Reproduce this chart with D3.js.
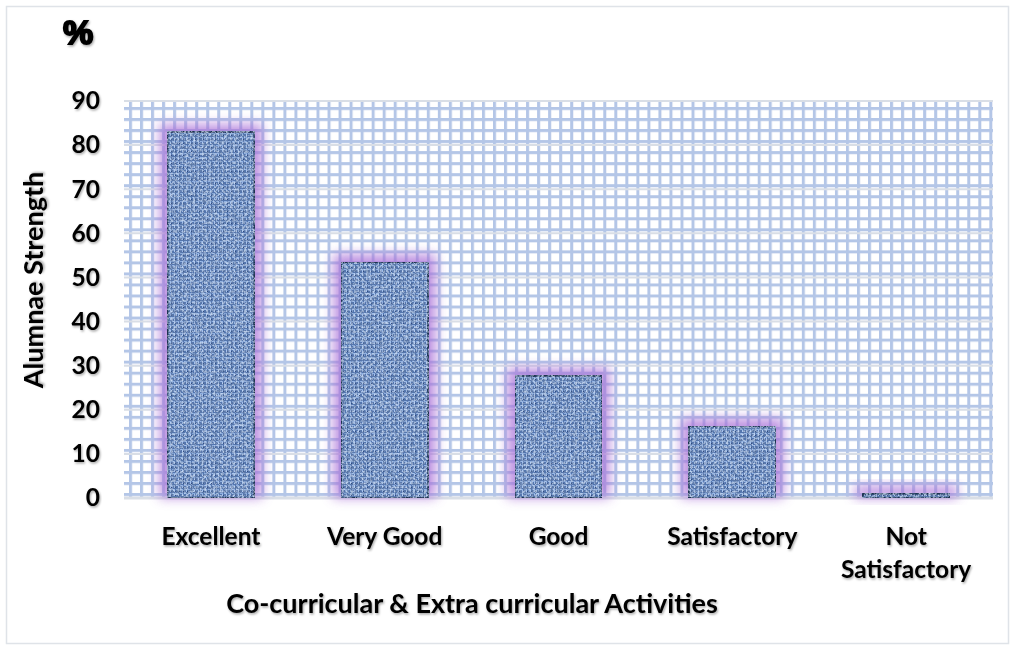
<!DOCTYPE html>
<html lang="en">
<head>
  <meta charset="UTF-8">
  <title>Alumnae Strength</title>
  <script src="https://d3js.org/d3.v7.min.js"></script>
  <style>
    body { margin: 0; background: #fff; font-family: Lato, "Open Sans", sans-serif; }
    svg text { font-weight: 700; fill: #000; }
  </style>
</head>
<body>
  <div id="chart"></div>
  <script>
    const categories = ["Excellent", "Very Good", "Good", "Satisfactory", "Not Satisfactory"];
    const values = [83, 53.5, 27.7, 16.3, 1];
    const yTicks = [0, 10, 20, 30, 40, 50, 60, 70, 80, 90];

    const w = 1015, h = 650;
    const plotLeft = 124, plotRight = 993, plotTop = 101, plotBottom = 498;

    const svg = d3.select("#chart").append("svg")
      .attr("width", w).attr("height", h);

    const defs = svg.append("defs");

    // plot area grid texture
    const grid = defs.append("pattern")
      .attr("id", "grid")
      .attr("patternUnits", "userSpaceOnUse")
      .attr("x", plotLeft + 5).attr("y", plotTop + 6)
      .attr("width", 11.03).attr("height", 11.03);
    grid.append("rect").attr("width", 11.03).attr("height", 11.03).attr("fill", "#fff");
    grid.append("rect").attr("x", 0).attr("y", 0).attr("width", 3).attr("height", 11.03).attr("fill", "#b4c6e7");
    grid.append("rect").attr("x", 0).attr("y", 0).attr("width", 11.03).attr("height", 3).attr("fill", "#b4c6e7");

    // woven bar texture
    const weave = defs.append("pattern")
      .attr("id", "weave")
      .attr("patternUnits", "userSpaceOnUse")
      .attr("width", 4).attr("height", 4);
    weave.append("rect").attr("width", 4).attr("height", 4).attr("fill", "#5275ad");
    weave.append("rect").attr("x", 0).attr("y", 1).attr("width", 3).attr("height", 1).attr("fill", "#8fb0e2");
    weave.append("rect").attr("x", 2).attr("y", 2).attr("width", 1).attr("height", 2).attr("fill", "#a6c2ee");
    weave.append("rect").attr("x", 3).attr("y", 3).attr("width", 1).attr("height", 1).attr("fill", "#304c7c");

    const noise = defs.append("filter").attr("id", "noise")
      .attr("x", 0).attr("y", 0).attr("width", 1).attr("height", 1);
    noise.append("feTurbulence").attr("type", "fractalNoise")
      .attr("baseFrequency", 0.3).attr("numOctaves", 3).attr("seed", 7).attr("result", "t");
    noise.append("feColorMatrix").attr("in", "t").attr("type", "matrix")
      .attr("values", "0 0 0 0 0.12  0 0 0 0 0.2  0 0 0 0 0.38  2.2 0 0 0 -0.9").attr("result", "dark");
    noise.append("feComposite").attr("in", "dark").attr("in2", "SourceAlpha").attr("operator", "in").attr("result", "d2");
    noise.append("feTurbulence").attr("type", "fractalNoise")
      .attr("baseFrequency", 0.45).attr("numOctaves", 2).attr("seed", 2).attr("result", "t2");
    noise.append("feColorMatrix").attr("in", "t2").attr("type", "matrix")
      .attr("values", "0 0 0 0 0.62  0 0 0 0 0.76  0 0 0 0 0.96  2.2 0 0 0 -1.0").attr("result", "light");
    noise.append("feComposite").attr("in", "light").attr("in2", "SourceAlpha").attr("operator", "in").attr("result", "l2");
    const merge = noise.append("feMerge");
    merge.append("feMergeNode").attr("in", "SourceGraphic");
    merge.append("feMergeNode").attr("in", "d2");
    merge.append("feMergeNode").attr("in", "l2");

    const glow = defs.append("filter").attr("id", "glow")
      .attr("x", -0.5).attr("y", -0.5).attr("width", 2).attr("height", 2);
    glow.append("feGaussianBlur").attr("stdDeviation", 6);

    const shadow = defs.append("filter").attr("id", "tshadow")
      .attr("x", -0.1).attr("y", -0.2).attr("width", 1.2).attr("height", 1.5);
    shadow.append("feDropShadow").attr("dx", 1).attr("dy", 1.5)
      .attr("stdDeviation", 1).attr("flood-color", "#000").attr("flood-opacity", 0.35);

    // outer frame
    svg.append("rect")
      .attr("x", 6.5).attr("y", 6.5).attr("width", 1002).attr("height", 637)
      .attr("fill", "none").attr("stroke", "#dfe3e8").attr("stroke-width", 1.5);

    const x = d3.scaleBand().domain(categories).range([plotLeft, plotRight])
      .paddingInner(0.5).paddingOuter(0.25);
    const y = d3.scaleLinear().domain([0, 90]).range([plotBottom, plotTop]);

    svg.append("rect")
      .attr("x", plotLeft).attr("y", plotTop)
      .attr("width", plotRight - plotLeft).attr("height", plotBottom - plotTop)
      .attr("fill", "url(#grid)");

    // major gridlines
    svg.append("g").selectAll("line").data(yTicks).join("line")
      .attr("x1", plotLeft).attr("x2", plotRight)
      .attr("y1", d => y(d)).attr("y2", d => y(d))
      .attr("stroke", "#d9dee6").attr("stroke-width", d => d === 0 ? 3 : 2);

    // glow behind bars
    svg.append("g").selectAll("rect").data(values).join("rect")
      .attr("x", (d, i) => x(categories[i]) - 8)
      .attr("y", d => y(d) - 8)
      .attr("width", x.bandwidth() + 16)
      .attr("height", d => y(0) - y(d) + 8)
      .attr("fill", "#a970d8").attr("opacity", 0.75)
      .attr("filter", "url(#glow)");

    svg.append("g").selectAll("rect").data(values).join("rect")
      .attr("x", (d, i) => x(categories[i]))
      .attr("y", d => y(d))
      .attr("width", x.bandwidth())
      .attr("height", d => y(0) - y(d))
      .attr("fill", "url(#weave)")
      .attr("stroke", "#1f3150").attr("stroke-width", 2)
      .attr("filter", "url(#noise)");

    // y axis
    const yAxis = svg.append("g")
      .attr("transform", `translate(${plotLeft},0)`)
      .call(d3.axisLeft(y).tickValues(yTicks).tickSize(0).tickPadding(24));
    yAxis.select(".domain").remove();
    yAxis.selectAll("text").attr("font-size", 24.5).attr("font-family", "Lato")
      .attr("filter", "url(#tshadow)");

    // x axis
    const xAxis = svg.append("g")
      .attr("transform", `translate(0,${plotBottom})`)
      .call(d3.axisBottom(x).tickSize(0).tickPadding(30));
    xAxis.select(".domain").remove();
    xAxis.selectAll("text")
      .attr("font-size", 24.5).attr("font-family", "Lato")
      .attr("filter", "url(#tshadow)")
      .each(function(d) {
        const words = d.split(" ");
        if (d.length > 12 && words.length > 1) {
          const t = d3.select(this).text(null);
          words.forEach((wd, i) => {
            t.append("tspan").attr("x", 0).attr("dy", i === 0 ? "0.71em" : "1.35em").text(wd);
          });
          t.attr("dy", null);
        }
      });

    svg.append("text")
      .attr("x", 472).attr("y", 613)
      .attr("text-anchor", "middle")
      .attr("font-size", 27).attr("font-family", "Lato")
      .attr("filter", "url(#tshadow)")
      .text("Co-curricular & Extra curricular Activities");

    svg.append("text")
      .attr("transform", "translate(43,280) rotate(-90)")
      .attr("text-anchor", "middle")
      .attr("font-size", 27).attr("font-family", "Lato")
      .attr("filter", "url(#tshadow)")
      .text("Alumnae Strength");

    svg.append("text")
      .attr("x", 78).attr("y", 44)
      .attr("text-anchor", "middle")
      .attr("font-size", 34).attr("font-family", "Liberation Sans")
      .attr("stroke", "#000").attr("stroke-width", 2)
      .attr("filter", "url(#tshadow)")
      .text("%");
  </script>
</body>
</html>
